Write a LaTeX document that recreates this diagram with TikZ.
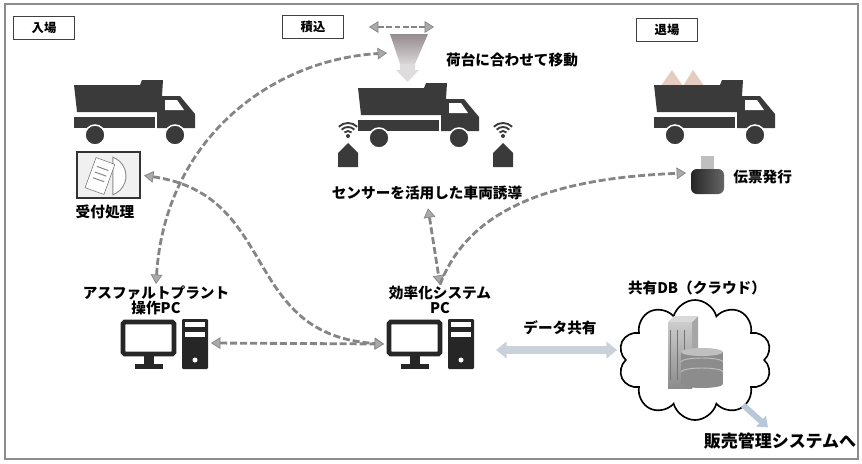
\documentclass[tikz,border=0pt]{standalone}
\usepackage{fontspec}
\setmainfont{Noto Sans CJK JP}
\usetikzlibrary{arrows.meta,shapes.symbols,calc}

\definecolor{truck}{HTML}{3A3A3A}
\definecolor{flow}{HTML}{858585}
\definecolor{hopper}{HTML}{958A8E}
\definecolor{cargo}{HTML}{E4CDBF}
\definecolor{share}{HTML}{C9D2DA}
\definecolor{salesout}{HTML}{B8C8D6}
\definecolor{frame}{HTML}{8C8C8C}

\tikzset{
  tag/.style={draw=black!75, line width=0.9pt, minimum width=18.3mm, minimum height=6.9mm,
    inner sep=0pt, font=\bfseries\fontsize{10.5}{12}\selectfont},
  lbl/.style={font=\bfseries\fontsize{12.5}{15}\selectfont, align=center, inner sep=1pt},
  tipgray/.tip={Triangle[width=10pt,length=8pt,line width=0.6pt,fill=flow!70]},
  flowarrow/.style={draw=flow, line width=2.4pt, dash pattern=on 6pt off 2.5pt, tipgray-tipgray},
  flowone/.style={draw=flow, line width=2.4pt, dash pattern=on 6pt off 2.5pt, -tipgray},
  sharearrow/.style={draw=share, line width=6pt, {Triangle[width=14pt,length=9pt]}-{Triangle[width=14pt,length=9pt]}},
  % dump truck, origin at the top left corner
  truckicon/.pic={
    \fill[truck] (1,5) -- (67,5) -- (69,0) -- (90,0) -- (88,32) -- (4,32) -- cycle;
    \fill[truck] (1,37) rectangle (82,48);
    \fill[truck] (84,16) -- (107,16) -- (122,34) -- (122,48) -- (84,48) -- cycle;
    \fill[white] (92,20) -- (104,20) -- (111,30) -- (92,30) -- cycle;
    \foreach \wx in {22,102}
      \filldraw[truck, draw=white, line width=1.3pt] (\wx,55) circle (10);
  },
  % monitor and tower, origin at the top left of the monitor
  pcicon/.pic={
    \draw[black!85, line width=4pt, rounded corners=1.5pt, fill=white] (3,3) rectangle (54,35);
    \fill[black!85] (24,37) rectangle (34,46);
    \fill[black!85] (15,45) rectangle (43,50);
    \fill[black!85, rounded corners=1pt] (62,0) rectangle (88,50);
    \fill[white] (65,3) rectangle (85,8);
    \fill[white] (65,13) rectangle (85,18);
    \fill[white] (75,41) circle (2.5);
  },
  % sensor post with its signal, origin at the tip of the post
  sensoricon/.pic={
    \fill[truck] (-10,24) -- (-10,10) -- (0,0) -- (10,10) -- (10,24) -- cycle;
    \fill[truck] (0,-7) circle (2);
    \foreach \r in {5,9,13}
      \draw[truck, line width=1.6pt] ($(0,-7)+(225:\r)$) arc (225:315:\r);
  }
}

\begin{document}
\begin{tikzpicture}[x=0.3mm, y=-0.3mm]
  \useasboundingbox (0,0) rectangle (862,463);
  \draw[frame, line width=1.2pt] (5,4) rectangle (858,459);

  % stage tags
  \node[tag] (entry) at (44,28) {入場};
  \node[tag] (load) at (313,27) {積込};
  \node[tag] (exit) at (667,30) {退場};

  % entry: truck and reception
  \pic at (73,80) {truckicon};
  \node[draw=black!80, line width=1pt, fill=black!6, minimum width=18.9mm, minimum height=13.8mm,
    inner sep=0pt] (uke) at (108.5,175) {};
  \draw[black!45, line width=0.8pt, fill=white] (112.8,157.2) arc (-70:70:20) -- cycle;
  \draw[black!60, fill=white, rotate around={-20:(100,176)}] (90,160) rectangle (110,192);
  \foreach \ly in {168,174,180}
    \draw[black!50, line width=0.8pt, rotate around={-20:(100,176)}] (94,\ly) -- (106,\ly);
  \node[lbl] (ukel) at (105,212) {受付処理};

  % loading: hopper, truck and guidance sensors
  \coordinate (slideL) at (369,27);
  \coordinate (slideR) at (434,27);
  \draw[flow, line width=2pt, dash pattern=on 5pt off 2pt, tipgray-tipgray] (slideL) -- (slideR);
  \shade[top color=hopper, bottom color=hopper!35] (390,34) -- (428,34) -- (415,64) -- (400,64) -- cycle;
  \fill[hopper!30] (400,64) -- (415,64) -- (415,70) -- (419,70) -- (407.5,82) -- (396,70) -- (400,70) -- cycle;
  \coordinate (hopin) at (387,53);
  \node[lbl] (move) at (512,60) {荷台に合わせて移動};
  \pic at (357,83) {truckicon};
  \pic at (348,143) {sensoricon};
  \pic at (503,143) {sensoricon};
  \node[lbl] (sens) at (427,193) {センサーを活用した車両誘導};

  % exit: loaded truck and slip printer
  \fill[cargo] (658,90) -- (672,70) -- (683,86) -- (693,70) -- (707,90) -- cycle;
  \pic at (653,80) {truckicon};
  \fill[black!25] (701,156) rectangle (714,172);
  \shade[left color=black!85, right color=black!60, rounded corners=5pt] (691,169) rectangle (724,194);
  \coordinate (printer) at (686,173);
  \node[lbl, anchor=west] (slip) at (732,177) {伝票発行};

  % computers
  \node[lbl] (plant) at (156,300) {アスファルトプラント\\[-2pt]操作PC};
  \pic at (120,319) {pcicon};
  \coordinate (plantpc) at (211,343);
  \node[lbl] (eff) at (440,300) {効率化システム\\[-2pt]PC};
  \pic at (386,319) {pcicon};
  \coordinate (effmon) at (384,344);
  \coordinate (effpc) at (496,350);

  % shared database in the cloud
  \node[lbl] (dbl) at (697,288) {共有DB（クラウド）};
  \node[cloud, cloud puffs=10, aspect=1.25, draw=black, line width=1.4pt, fill=white,
    minimum width=46mm, minimum height=36mm] (db) at (695,360) {};
  \shade[top color=black!20, bottom color=black!45] (668,322) rectangle (692,388);
  \fill[black!35] (692,322) -- (698,316) -- (698,382) -- (692,388) -- cycle;
  \fill[black!15] (668,322) -- (674,316) -- (698,316) -- (692,322) -- cycle;
  \foreach \ly in {670,677,684}
    \draw[black!55, line width=0.5pt] (\ly,330) -- (\ly,380);
  \fill[black!45] (681,352) rectangle (723,384);
  \fill[black!45] (702,384) ellipse (21 and 4);
  \foreach \ly in {362,372}
    \draw[black!25, line width=0.8pt] (681,\ly) arc (180:0:21 and -4);
  \fill[black!25] (702,352) ellipse (21 and 4);
  \coordinate (dbin) at (617,350);
  \coordinate (dbout) at (743,405);

  \node[lbl] (sharel) at (560,328) {データ共有};
  \node[font=\bfseries\fontsize{14.5}{17}\selectfont, inner sep=1pt] (sales) at (780,441) {販売管理システムへ};

  % connectors
  \draw[flowarrow] (plant.north) .. controls (165,140) and (270,60) .. (hopin);
  \draw[flowarrow, shorten <=3pt] (uke.east) .. controls (280,195) and (240,335) .. (effmon);
  \draw[flowarrow] (plantpc) -- (effmon);
  \draw[flowarrow, shorten <=6pt] (sens.south) -- (eff.north);
  \draw[flowone] (eff.north) .. controls (470,205) and (560,178) .. (printer);
  \draw[sharearrow] (effpc) -- (dbin);
  \draw[salesout, line width=5pt, -{Triangle[width=12pt,length=8pt]}] (dbout) -- ($(sales.north)+(-12,-4)$);
\end{tikzpicture}
\end{document}
